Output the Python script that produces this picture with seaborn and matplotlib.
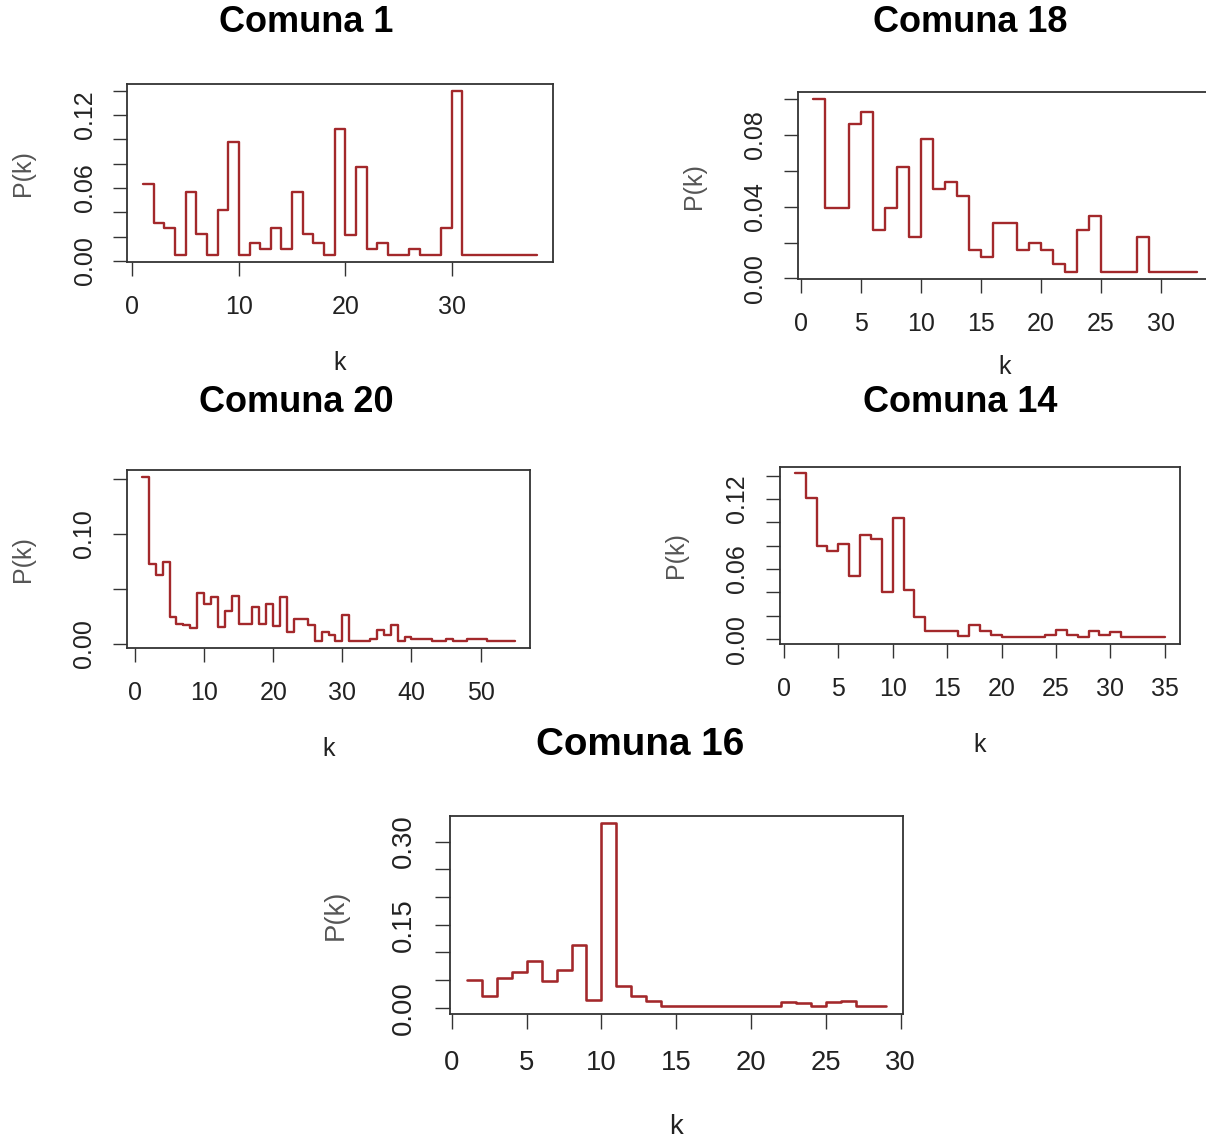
import matplotlib
matplotlib.use('Agg')
import matplotlib.pyplot as plt
import seaborn as sns
import pandas as pd

# ---------------- data ----------------
c1_k = [1, 2, 3, 4, 5, 6, 7, 8, 9, 10, 11, 12, 13, 14, 15, 16, 17, 18, 19, 20,
        21, 22, 23, 24, 26, 27, 29, 30, 31, 38]
c1_p = [0.063, 0.031, 0.027, 0.005, 0.057, 0.022, 0.005, 0.042, 0.098, 0.005,
        0.015, 0.010, 0.027, 0.010, 0.057, 0.022, 0.015, 0.005, 0.109, 0.021,
        0.077, 0.010, 0.015, 0.005, 0.010, 0.005, 0.027, 0.140, 0.005, 0.005]

c18_k = [1, 2, 4, 5, 6, 7, 8, 9, 10, 11, 12, 13, 14, 15, 16, 18, 19, 20, 21, 22,
         23, 24, 25, 28, 29, 33]
c18_p = [0.100, 0.039, 0.086, 0.093, 0.027, 0.039, 0.062, 0.023, 0.078, 0.050,
         0.054, 0.046, 0.016, 0.012, 0.031, 0.016, 0.020, 0.016, 0.008, 0.0035,
         0.027, 0.035, 0.0035, 0.023, 0.0035, 0.0035]

c20_k = [1, 2, 3, 4, 5, 6, 7, 8, 9, 10, 11, 12, 13, 14, 15, 17, 18, 19, 20, 21,
         22, 23, 25, 26, 27, 28, 29, 30, 31, 34, 35, 36, 37, 38, 39, 40, 43, 45,
         46, 48, 51, 55]
c20_p = [0.152, 0.072, 0.062, 0.074, 0.024, 0.018, 0.017, 0.014, 0.046, 0.036,
         0.042, 0.015, 0.030, 0.043, 0.018, 0.033, 0.018, 0.036, 0.016, 0.042,
         0.011, 0.022, 0.017, 0.002, 0.011, 0.008, 0.002, 0.026, 0.002, 0.0045,
         0.012, 0.008, 0.017, 0.002, 0.006, 0.0045, 0.002, 0.004, 0.002, 0.0045,
         0.002, 0.002]

c14_k = [1, 2, 3, 4, 5, 6, 7, 8, 9, 10, 11, 12, 13, 16, 17, 18, 19, 20, 24, 25,
         26, 27, 28, 29, 30, 31, 35]
c14_p = [0.142, 0.121, 0.080, 0.075, 0.081, 0.054, 0.089, 0.086, 0.040, 0.104,
         0.042, 0.019, 0.0066, 0.003, 0.012, 0.0066, 0.0037, 0.0014, 0.0034,
         0.008, 0.0037, 0.0014, 0.0066, 0.0037, 0.0057, 0.0014, 0.0014]

c16_k = [1, 2, 3, 4, 5, 6, 7, 8, 9, 10, 11, 12, 13, 14, 22, 23, 24, 25, 26, 27, 29]
c16_p = [0.050, 0.021, 0.054, 0.065, 0.085, 0.048, 0.069, 0.114, 0.014, 0.333,
         0.039, 0.021, 0.0125, 0.003, 0.011, 0.008, 0.003, 0.011, 0.012, 0.0036,
         0.0036]

titles = ['Comuna 1', 'Comuna 18', 'Comuna 20', 'Comuna 14', 'Comuna 16']

c1_xticks = [0, 10, 20, 30]
c18_xticks = [0, 5, 10, 15, 20, 25, 30]
c20_xticks = [0, 10, 20, 30, 40, 50]
c14_xticks = [0, 5, 10, 15, 20, 25, 30, 35]
c16_xticks = [0, 5, 10, 15, 20, 25, 30]

c1_yticks = [0.00, 0.02, 0.04, 0.06, 0.08, 0.10, 0.12, 0.14]
c1_ylabels = ['0.00', '', '', '0.06', '', '', '0.12', '']
c18_yticks = [0.00, 0.02, 0.04, 0.06, 0.08, 0.10]
c18_ylabels = ['0.00', '', '0.04', '', '0.08', '']
c20_yticks = [0.00, 0.05, 0.10, 0.15]
c20_ylabels = ['0.00', '', '0.10', '']
c14_yticks = [0.00, 0.02, 0.04, 0.06, 0.08, 0.10, 0.12, 0.14]
c14_ylabels = ['0.00', '', '', '0.06', '', '', '0.12', '']
c16_yticks = [0.00, 0.05, 0.10, 0.15, 0.20, 0.25, 0.30]
c16_ylabels = ['0.00', '', '', '0.15', '', '', '0.30']

# ---------------- style ----------------
sns.set_theme(style='white')
plt.rcParams['font.family'] = ['Liberation Sans', 'DejaVu Sans']

W, H = 1206, 1141
fig = plt.figure(figsize=(W / 100, H / 100), dpi=100)

LINE = '#A3282B'
AXC = '#333333'
TXT = '#222222'

# layout: (left, right, top, bottom) in pixels, title centre, scale, xlabel offset
layout = [
    dict(box=(127.3, 552.7, 84.3, 261.5), tpos=(306, 23), s=1.0, kdy=101.5),
    dict(box=(797.5, 1212.0, 92.3, 279.0), tpos=(970, 23), s=1.0, kdy=88.0),
    dict(box=(127.0, 530.0, 470.0, 648.0), tpos=(296, 403), s=1.0, kdy=101.5),
    dict(box=(780.0, 1179.5, 466.7, 644.0), tpos=(960, 403), s=1.0, kdy=101.5),
    dict(box=(450.0, 902.5, 816.0, 1013.5), tpos=(640, 745), s=1.1, kdy=114.0),
]

series = [
    (c1_k, c1_p, c1_xticks, c1_yticks, c1_ylabels),
    (c18_k, c18_p, c18_xticks, c18_yticks, c18_ylabels),
    (c20_k, c20_p, c20_xticks, c20_yticks, c20_ylabels),
    (c14_k, c14_p, c14_xticks, c14_yticks, c14_ylabels),
    (c16_k, c16_p, c16_xticks, c16_yticks, c16_ylabels),
]

for i, (lay, (ks, ps, xt, yt, yl)) in enumerate(zip(layout, series)):
    l, r, t, b = lay['box']
    s = lay['s']
    ax = fig.add_axes([l / W, 1 - b / H, (r - l) / W, (b - t) / H])
    df = pd.DataFrame({'k': ks, 'P': ps})
    sns.lineplot(data=df, x='k', y='P', ax=ax, estimator=None, sort=False,
                 drawstyle='steps-post', color=LINE, linewidth=1.7 * s)
    ax.margins(x=0.04, y=0.04)
    ax.autoscale_view()
    xl, ylim = ax.get_xlim(), ax.get_ylim()
    ax.set_xticks(xt)
    ax.set_xticklabels([str(v) for v in xt])
    ax.set_yticks(yt)
    ax.set_yticklabels(yl, rotation=90, va='center')
    ax.set_xlim(xl)
    ax.set_ylim(ylim)
    ax.set_facecolor('white')
    for sp in ax.spines.values():
        sp.set_color(AXC)
        sp.set_linewidth(1.3)
        sp.set_visible(True)
    ax.tick_params(axis='both', direction='out', length=10 * s, width=1.0,
                   color=AXC, labelcolor=TXT, labelsize=18 * s,
                   bottom=True, left=True, top=False, right=False)
    ax.tick_params(axis='x', pad=14 * s)
    ax.tick_params(axis='y', pad=12 * s)
    ax.grid(False)
    ax.set_xlabel('k', fontsize=18 * s, color=TXT, va='center')
    ax.set_ylabel('P(k)', fontsize=18 * s, color='#555555', va='center')
    wpx, hpx = r - l, b - t
    ax.xaxis.set_label_coords(0.5, -lay['kdy'] / hpx)
    ax.yaxis.set_label_coords(-(104 * s) / wpx, 0.5)

    tx, ty = lay['tpos']
    fig.text(tx / W, 1 - ty / H, titles[i], ha='center', va='center',
             fontsize=26 * (1.07 if i == 4 else 1.0), fontweight='bold',
             color='black')

fig.savefig('out.png', dpi=100, facecolor='white')
